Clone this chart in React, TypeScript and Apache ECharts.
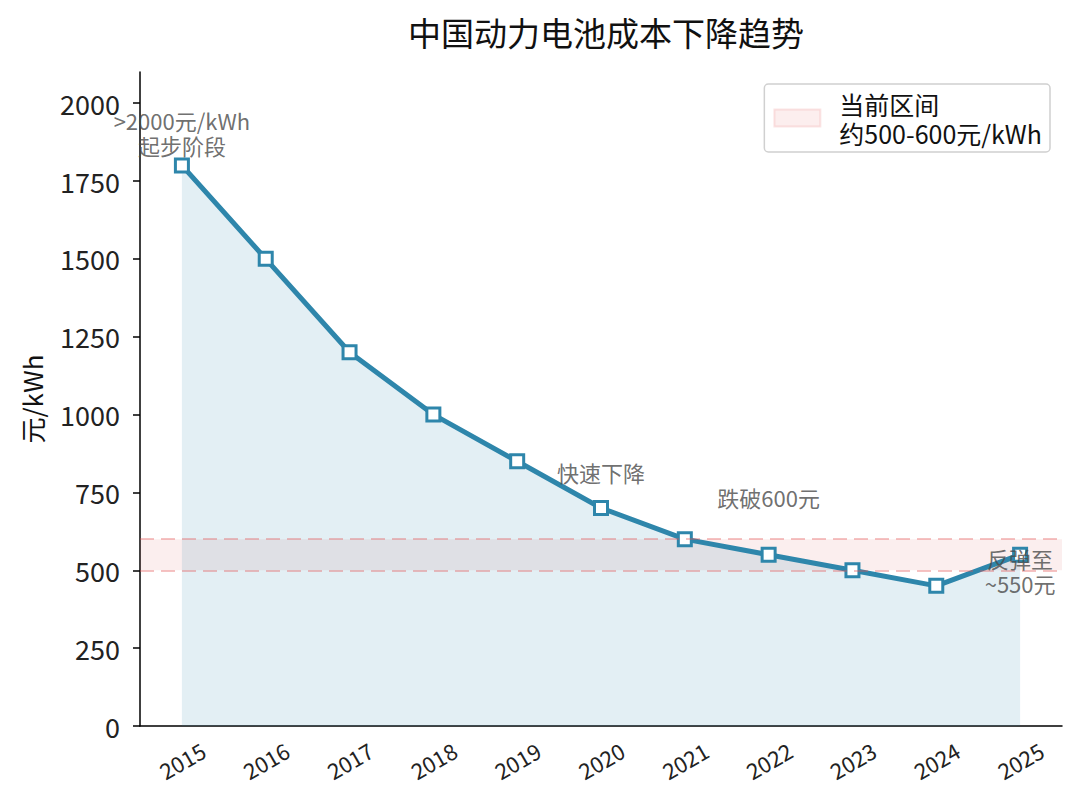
import React, { useEffect, useRef } from "react";
import * as echarts from "echarts";

const years = ["2015", "2016", "2017", "2018", "2019", "2020", "2021", "2022", "2023", "2024", "2025"];
const costs = [1800, 1500, 1200, 1000, 850, 700, 600, 550, 500, 450, 550];
const yTicks = [0, 250, 500, 750, 1000, 1250, 1500, 1750, 2000];
const bandLow = 500;
const bandHigh = 600;
const annoYears = ["2015", "2020", "2022", "2025"];
const annoValues = [1905, 815, 735, 500];
const annoTexts = [">2000元/kWh\n起步阶段", "快速下降", "跌破600元", "反弹至\n~550元"];

const FONT = "'Noto Sans CJK SC', 'Noto Sans', sans-serif";

export default function App() {
  const ref = useRef<HTMLDivElement>(null);
  useEffect(() => {
    document.body.style.margin = "0";
    const chart = echarts.init(ref.current!, null, { renderer: "svg" });
    chart.setOption({
      animation: false,
      backgroundColor: "#fff",
      textStyle: { fontFamily: FONT },
      title: {
        text: "中国动力电池成本下降趋势",
        left: 601,
        textAlign: "center",
        top: 10,
        textStyle: { fontSize: 33, fontWeight: "normal", color: "#111", fontFamily: FONT },
      },
      legend: {
        right: 30,
        top: 84,
        orient: "vertical",
        data: [{ name: "当前区间\n约500-600元/kWh", icon: "rect" }],
        itemWidth: 46,
        itemHeight: 17,
        padding: [5, 8, 5, 9],
        borderColor: "#d0d0d0",
        borderWidth: 1.5,
        borderRadius: 4,
        backgroundColor: "rgba(255,255,255,0.8)",
        textStyle: { fontSize: 25, color: "#111", lineHeight: 29, fontFamily: FONT, padding: [0, 0, 0, 14] },
      },
      grid: { left: 140, right: 18, top: 72, bottom: 82 },
      xAxis: {
        type: "category",
        data: years,
        boundaryGap: true,
        axisLine: { lineStyle: { color: "#000", width: 1.5 } },
        axisTick: { alignWithLabel: true, length: 7, lineStyle: { color: "#000", width: 1.5 } },
        axisLabel: {
          rotate: 30,
          fontSize: 22,
          color: "#222",
          margin: 34,
          interval: 0,
          align: "center",
          verticalAlign: "middle",
          fontFamily: FONT,
        },
        splitLine: { show: false },
      },
      yAxis: {
        type: "value",
        min: 0,
        max: 2100,
        interval: 250,
        name: "元/kWh",
        nameLocation: "middle",
        nameGap: 96,
        nameTextStyle: { fontSize: 26, color: "#111", fontFamily: FONT },
        axisLine: { show: true, lineStyle: { color: "#000", width: 1.5 } },
        axisTick: { show: true, length: 7, lineStyle: { color: "#000", width: 1.5 }, customValues: yTicks },
        axisLabel: {
          fontSize: 27,
          color: "#222",
          margin: 20,
          customValues: yTicks,
          fontFamily: FONT,
          formatter: (v: number) => String(v),
        },
        splitLine: { show: false },
      },
      series: [
        {
          name: "当前区间\n约500-600元/kWh",
          type: "line",
          data: [],
          itemStyle: { color: "rgba(225,90,90,0.1)", borderColor: "rgba(225,90,90,0.15)", borderWidth: 1 },
          lineStyle: { width: 0 },
          markArea: {
            silent: true,
            itemStyle: { color: "rgba(220,90,90,0.1)" },
            data: [[{ yAxis: bandLow }, { yAxis: bandHigh }]],
          },
          markLine: {
            silent: true,
            symbol: "none",
            label: { show: false },
            lineStyle: { color: "rgba(225,80,80,0.35)", type: [14, 7], width: 2 },
            data: [{ yAxis: bandLow }, { yAxis: bandHigh }],
          },
          z: 1,
        },
        {
          name: "成本",
          type: "line",
          data: costs,
          symbol: "rect",
          symbolSize: 13,
          showAllSymbol: true,
          lineStyle: { color: "#2E86AB", width: 5 },
          itemStyle: { color: "#fff", borderColor: "#2E86AB", borderWidth: 3 },
          areaStyle: { color: "rgba(46,134,171,0.19)" },
          z: 3,
        },
        {
          name: "注释",
          type: "scatter",
          symbol: "circle",
          symbolSize: 1,
          itemStyle: { color: "transparent" },
          data: annoYears.map((y, i) => ({
            value: [y, annoValues[i]],
            label: {
              show: true,
              formatter: annoTexts[i],
              position: "inside",
              fontSize: 22,
              lineHeight: 25,
              color: "#4a4a4a",
              align: "center",
              verticalAlign: "middle",
              fontFamily: FONT,
            },
          })),
          z: 5,
        },
      ],
    });
    return () => chart.dispose();
  }, []);
  return <div ref={ref} style={{ width: 1080, height: 808 }} />;
}
